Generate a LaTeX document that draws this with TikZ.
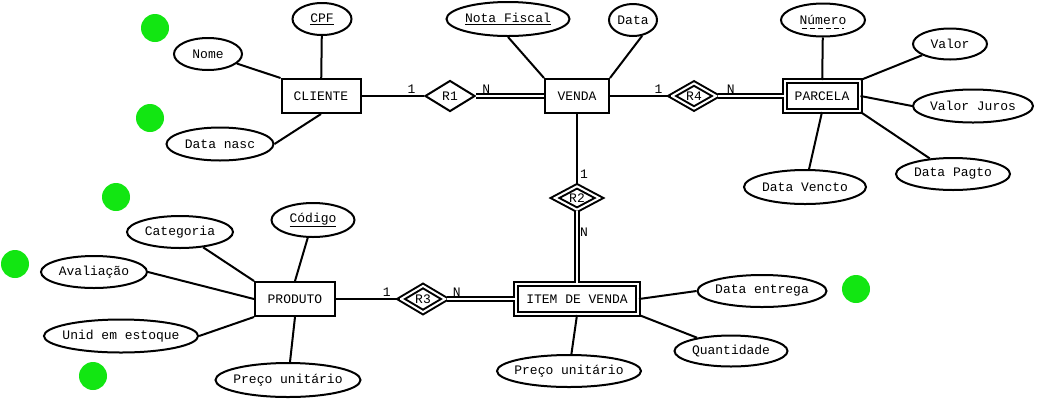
\documentclass[tikz,border=0pt]{standalone}
\usepackage{fontspec}
\setmainfont{Liberation Mono}
\usepackage{tikz}
\usetikzlibrary{
    shapes.geometric
}
\definecolor{dotgreen}{RGB}{18,230,18}
\tikzset{
    entity/.style={draw, line width=2pt, rectangle, minimum height=34pt, inner sep=0pt},
    weak/.style={entity, double, double distance=2pt, minimum height=30pt},
    attr/.style={draw, line width=2pt, ellipse, inner sep=0pt, inner xsep=-4pt},
    rel/.style={draw, line width=2pt, diamond, inner sep=0pt, minimum width=50pt, minimum height=31pt},
    weakrel/.style={rel, double, double distance=2pt, minimum width=45pt, minimum height=26pt},
    link/.style={line width=2pt},
    dlink/.style={link, double, double distance=2pt},
    card/.style={inner sep=2pt},
    dot/.style={circle, fill=dotgreen, minimum size=28pt, inner sep=0pt}
}
\begin{document}
\begin{tikzpicture}[x=1pt, y=-1pt, font=\fontsize{13}{15}\selectfont]
        \useasboundingbox (0,0) rectangle (1038,400);

        % entities
        \draw (321,96) node[entity, minimum width=79pt](cliente){CLIENTE};
        \draw (577,96) node[entity, minimum width=64pt](venda){VENDA};
        \draw (822,96) node[weak, minimum width=75pt](parcela){PARCELA};
        \draw (295,299) node[entity, minimum width=80pt](produto){PRODUTO};
        \draw (577,299) node[weak, minimum width=122pt](item){ITEM DE VENDA};

        % relationships
        \draw (450,96) node[rel](r1){R1};
        \draw (694,96) node[weakrel](r4){R4};
        \draw (577,198) node[weakrel, minimum height=23pt](r2){R2};
        \draw (423,299) node[weakrel, minimum height=27pt](r3){R3};

        % attributes
        \draw (322,19) node[attr, minimum width=59pt, minimum height=32pt](cpf){\underline{CPF}};
        \draw (208,54) node[attr, minimum width=68pt, minimum height=32pt](nome){Nome};
        \draw (220,144) node[attr, minimum width=107pt, minimum height=33pt](datanasc){Data nasc};
        \draw (508,19) node[attr, minimum width=123pt, minimum height=34pt](notafiscal){\underline{Nota Fiscal}};
        \draw (633,20) node[attr, minimum width=48pt, minimum height=32pt](data){Data};
        \draw (823,20) node[attr, minimum width=84pt, minimum height=33pt](numero){Número};
        \draw[line width=1.6pt, dash pattern=on 5pt off 3pt] ([xshift=-21pt, yshift=-4pt]numero.base) -- ([xshift=21pt, yshift=-4pt]numero.base);
        \draw (950,44) node[attr, minimum width=74pt, minimum height=31pt](valor){Valor};
        \draw (973,106) node[attr, minimum width=120pt, minimum height=33pt](valorjuros){Valor Juros};
        \draw (953,174) node[attr, minimum width=114pt, minimum height=32pt](datapagto){Data Pagto};
        \draw (805,187) node[attr, minimum width=122pt, minimum height=34pt](datavencto){Data Vencto};
        \draw (180,232) node[attr, minimum width=106pt, minimum height=32pt](categoria){Categoria};
        \draw (313,220) node[attr, minimum width=83pt, minimum height=34pt](codigo){\underline{Código}};
        \draw (94,272) node[attr, minimum width=106pt, minimum height=32pt](avaliacao){Avaliação};
        \draw (121,336) node[attr, minimum width=152pt, minimum height=33pt](unid){Unid em estoque};
        \draw (288,380) node[attr, minimum width=145pt, minimum height=34pt](precop){Preço unitário};
        \draw (569,371) node[attr, minimum width=144pt, minimum height=32pt](precoi){Preço unitário};
        \draw (762,291) node[attr, minimum width=129pt, minimum height=32pt](dataentrega){Data entrega};
        \draw (731,351) node[attr, minimum width=113pt, minimum height=31pt](quantidade){Quantidade};

        % green marks
        \draw (155,28) node[dot](g1){};
        \draw (150,118) node[dot](g2){};
        \draw (116,197) node[dot](g3){};
        \draw (15,264) node[dot](g4){};
        \draw (93,376) node[dot](g5){};
        \draw (856,289) node[dot](g6){};

        % attribute links
        \draw[link] (cpf) to (cliente);
        \draw[link] (nome) to (cliente.north west);
        \draw[link] (datanasc.east) to (cliente.south);
        \draw[link] (notafiscal.south) to (venda.north west);
        \draw[link] (data.300) to (venda.north east);
        \draw[link] (numero) to (parcela);
        \draw[link] (valor) to (parcela.north east);
        \draw[link] (valorjuros.west) to (parcela.east);
        \draw[link] (datapagto) to (parcela.south east);
        \draw[link] (datavencto) to (parcela.south);
        \draw[link] (codigo) to (produto.north);
        \draw[link] (categoria) to (produto.north west);
        \draw[link] (avaliacao.east) to (produto.west);
        \draw[link] (unid.east) to (produto.south west);
        \draw[link] (precop) to (produto.south);
        \draw[link] (precoi) to (item.south);
        \draw[link] (dataentrega.west) to (item.east);
        \draw[link] (quantidade) to (item.south east);

        % relationship links
        \draw[link] (cliente) to node[card, pos=0.8, above](c1){1} (r1);
        \draw[dlink] (r1) to node[card, pos=0.15, above](n1){N} (venda);
        \draw[link] (venda) to node[card, pos=0.8, above](c4){1} (r4);
        \draw[dlink] (r4) to node[card, pos=0.2, above](n4){N} (parcela);
        \draw[link] (venda) to node[card, pos=0.85, right](c2){1} (r2);
        \draw[dlink] (r2) to node[card, pos=0.3, right](n2){N} (item);
        \draw[link] (produto) to node[card, pos=0.8, above](c3){1} (r3);
        \draw[dlink] (r3) to node[card, pos=0.15, above](n3){N} (item);
    \end{tikzpicture}
\end{document}
